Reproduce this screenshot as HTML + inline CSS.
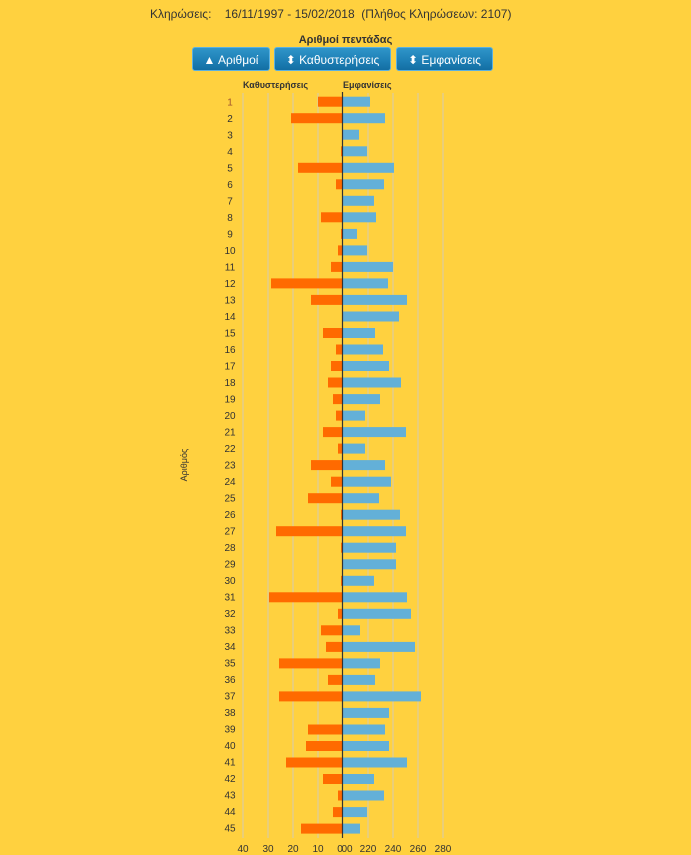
<!DOCTYPE html>
<html><head><meta charset="utf-8"><style>
body{margin:0;width:691px;height:855px;background:#FFD13F;font-family:"Liberation Sans","DejaVu Sans",sans-serif;position:relative;overflow:hidden}
.hdr{position:absolute;top:7px;left:150px;font-size:12px;color:#333;white-space:pre}
.ttl{position:absolute;top:34px;text-align:center;font-size:11px;font-weight:bold;color:#333}
.btn{position:absolute;top:47px;height:24px;border:1px solid #5bb0e0;border-radius:3px;background:linear-gradient(#2f95c9,#1d7fb5 60%,#136ea3);color:#fff;font-size:12px;line-height:24px;text-align:center;box-sizing:border-box}
svg{position:absolute;left:0;top:0}
</style></head><body>
<div class="hdr">Κληρώσεις:    16/11/1997 - 15/02/2018  (Πλήθος Κληρώσεων: 2107)</div>
<div class="ttl" style="left:50px;width:591px">Αριθμοί πεντάδας</div>
<div class="btn" style="left:192px;width:78px">▲ Αριθμοί</div>
<div class="btn" style="left:274px;width:117px">⬍ Καθυστερήσεις</div>
<div class="btn" style="left:396px;width:97px">⬍ Εμφανίσεις</div>
<svg width="691" height="855" font-family="Liberation Sans, DejaVu Sans, sans-serif">
<g font-size="9" font-weight="bold" fill="#333"><text x="243" y="88">Καθυστερήσεις</text><text x="343" y="88">Εμφανίσεις</text></g>
<g stroke="#d4cbb0" stroke-width="1"><line x1="243" y1="93" x2="243" y2="838"/><line x1="268" y1="93" x2="268" y2="838"/><line x1="293" y1="93" x2="293" y2="838"/><line x1="318" y1="93" x2="318" y2="838"/><line x1="368" y1="93" x2="368" y2="838"/><line x1="393" y1="93" x2="393" y2="838"/><line x1="418" y1="93" x2="418" y2="838"/><line x1="443" y1="93" x2="443" y2="838"/></g>
<g fill="#FF6A00">
<rect x="318" y="96.7" width="24" height="10"/><rect x="291" y="113.2" width="51" height="10"/><rect x="341" y="146.3" width="1" height="10"/><rect x="298" y="162.8" width="44" height="10"/><rect x="336" y="179.3" width="6" height="10"/><rect x="321" y="212.3" width="21" height="10"/><rect x="341" y="228.9" width="1" height="10"/><rect x="338" y="245.4" width="4" height="10"/><rect x="331" y="261.9" width="11" height="10"/><rect x="271" y="278.4" width="71" height="10"/><rect x="311" y="294.9" width="31" height="10"/><rect x="323" y="328" width="19" height="10"/><rect x="336" y="344.5" width="6" height="10"/><rect x="331" y="361" width="11" height="10"/><rect x="328" y="377.5" width="14" height="10"/><rect x="333" y="394.1" width="9" height="10"/><rect x="336" y="410.6" width="6" height="10"/><rect x="323" y="427.1" width="19" height="10"/><rect x="338" y="443.6" width="4" height="10"/><rect x="311" y="460.1" width="31" height="10"/><rect x="331" y="476.7" width="11" height="10"/><rect x="308" y="493.2" width="34" height="10"/><rect x="341" y="509.7" width="1" height="10"/><rect x="276" y="526.2" width="66" height="10"/><rect x="341" y="542.7" width="1" height="10"/><rect x="341" y="575.8" width="1" height="10"/><rect x="269" y="592.3" width="73" height="10"/><rect x="338" y="608.8" width="4" height="10"/><rect x="321" y="625.3" width="21" height="10"/><rect x="326" y="641.9" width="16" height="10"/><rect x="279" y="658.4" width="63" height="10"/><rect x="328" y="674.9" width="14" height="10"/><rect x="279" y="691.4" width="63" height="10"/><rect x="308" y="724.5" width="34" height="10"/><rect x="306" y="741" width="36" height="10"/><rect x="286" y="757.5" width="56" height="10"/><rect x="323" y="774" width="19" height="10"/><rect x="338" y="790.5" width="4" height="10"/><rect x="333" y="807.1" width="9" height="10"/><rect x="301" y="823.6" width="41" height="10"/>
</g>
<g fill="#63B0D8">
<rect x="343" y="96.7" width="27" height="10"/><rect x="343" y="113.2" width="42" height="10"/><rect x="343" y="129.7" width="16" height="10"/><rect x="343" y="146.3" width="24" height="10"/><rect x="343" y="162.8" width="51" height="10"/><rect x="343" y="179.3" width="41" height="10"/><rect x="343" y="195.8" width="31" height="10"/><rect x="343" y="212.3" width="33" height="10"/><rect x="343" y="228.9" width="14" height="10"/><rect x="343" y="245.4" width="24" height="10"/><rect x="343" y="261.9" width="50" height="10"/><rect x="343" y="278.4" width="45" height="10"/><rect x="343" y="294.9" width="64" height="10"/><rect x="343" y="311.5" width="56" height="10"/><rect x="343" y="328" width="32" height="10"/><rect x="343" y="344.5" width="40" height="10"/><rect x="343" y="361" width="46" height="10"/><rect x="343" y="377.5" width="58" height="10"/><rect x="343" y="394.1" width="37" height="10"/><rect x="343" y="410.6" width="22" height="10"/><rect x="343" y="427.1" width="63" height="10"/><rect x="343" y="443.6" width="22" height="10"/><rect x="343" y="460.1" width="42" height="10"/><rect x="343" y="476.7" width="48" height="10"/><rect x="343" y="493.2" width="36" height="10"/><rect x="343" y="509.7" width="57" height="10"/><rect x="343" y="526.2" width="63" height="10"/><rect x="343" y="542.7" width="53" height="10"/><rect x="343" y="559.3" width="53" height="10"/><rect x="343" y="575.8" width="31" height="10"/><rect x="343" y="592.3" width="64" height="10"/><rect x="343" y="608.8" width="68" height="10"/><rect x="343" y="625.3" width="17" height="10"/><rect x="343" y="641.9" width="72" height="10"/><rect x="343" y="658.4" width="37" height="10"/><rect x="343" y="674.9" width="32" height="10"/><rect x="343" y="691.4" width="78" height="10"/><rect x="343" y="707.9" width="46" height="10"/><rect x="343" y="724.5" width="42" height="10"/><rect x="343" y="741" width="46" height="10"/><rect x="343" y="757.5" width="64" height="10"/><rect x="343" y="774" width="31" height="10"/><rect x="343" y="790.5" width="41" height="10"/><rect x="343" y="807.1" width="24" height="10"/><rect x="343" y="823.6" width="17" height="10"/>
</g>
<line x1="342.5" y1="92" x2="342.5" y2="838" stroke="#333" stroke-width="1.2"/>
<g font-size="10" fill="#333" text-anchor="middle">
<text x="230" y="105.5" fill="#a0522d">1</text><text x="230" y="122">2</text><text x="230" y="138.5">3</text><text x="230" y="155">4</text><text x="230" y="171.5">5</text><text x="230" y="188">6</text><text x="230" y="204.5">7</text><text x="230" y="221">8</text><text x="230" y="237.5">9</text><text x="230" y="254">10</text><text x="230" y="270.5">11</text><text x="230" y="287">12</text><text x="230" y="303.5">13</text><text x="230" y="320">14</text><text x="230" y="336.5">15</text><text x="230" y="353">16</text><text x="230" y="369.5">17</text><text x="230" y="386">18</text><text x="230" y="402.5">19</text><text x="230" y="419">20</text><text x="230" y="435.5">21</text><text x="230" y="452">22</text><text x="230" y="468.5">23</text><text x="230" y="485">24</text><text x="230" y="501.5">25</text><text x="230" y="518">26</text><text x="230" y="534.5">27</text><text x="230" y="551">28</text><text x="230" y="567.5">29</text><text x="230" y="584">30</text><text x="230" y="600.5">31</text><text x="230" y="617">32</text><text x="230" y="633.5">33</text><text x="230" y="650">34</text><text x="230" y="666.5">35</text><text x="230" y="683">36</text><text x="230" y="699.5">37</text><text x="230" y="716">38</text><text x="230" y="732.5">39</text><text x="230" y="749">40</text><text x="230" y="765.5">41</text><text x="230" y="782">42</text><text x="230" y="798.5">43</text><text x="230" y="815">44</text><text x="230" y="831.5">45</text>
</g>
<g font-size="10" fill="#333" text-anchor="middle">
<text x="243" y="852">40</text><text x="268" y="852">30</text><text x="293" y="852">20</text><text x="318" y="852">10</text><text x="340" y="852">0</text><text x="347" y="852">00</text><text x="368" y="852">220</text><text x="393" y="852">240</text><text x="418" y="852">260</text><text x="443" y="852">280</text>
</g>
<text transform="translate(187,465) rotate(-90)" font-size="9" fill="#333" text-anchor="middle">Αριθμός</text>
</svg>
</body></html>
